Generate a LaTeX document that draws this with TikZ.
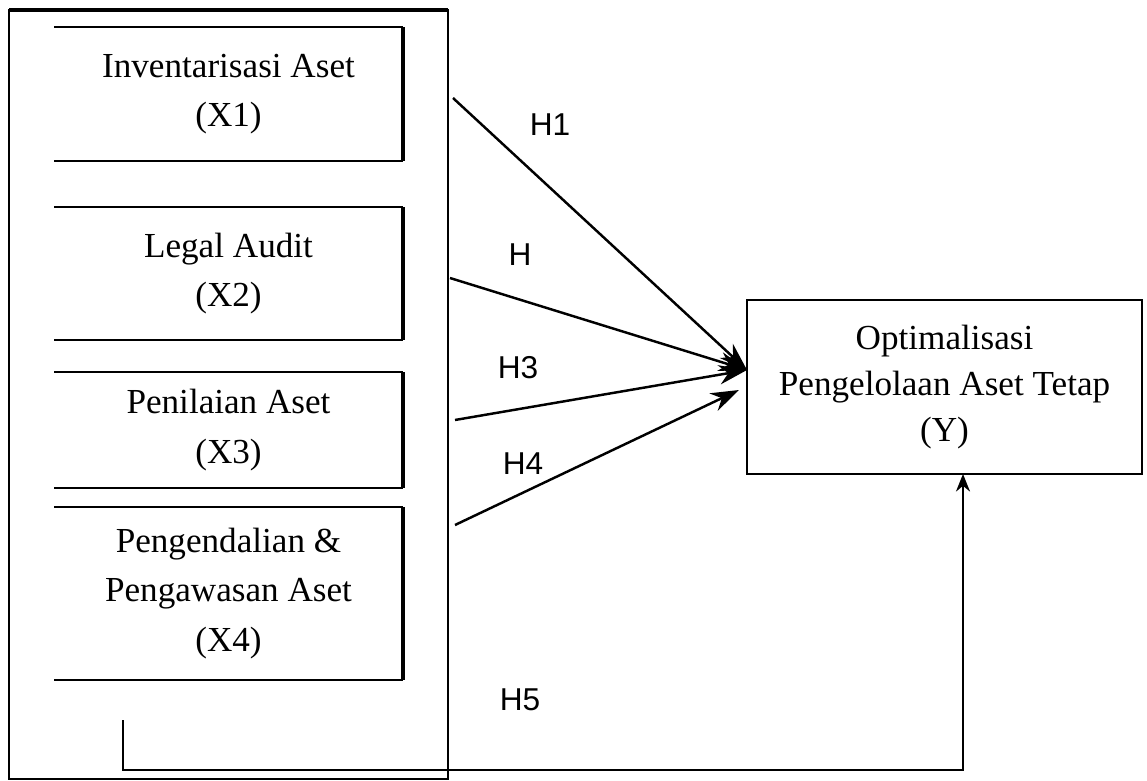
\documentclass[tikz,border=0pt]{standalone}
\usepackage{fontspec}
\setmainfont{Liberation Serif}
\newfontfamily\hlabelfont{Liberation Sans}
\usetikzlibrary{arrows.meta}
\tikzstyle{varbox}=[inner sep=0, outer sep=0, minimum width=6.98cm, align=center,
                    font=\fontsize{20}{28}\selectfont]
\tikzstyle{depbox}=[draw, line width=1.1pt, inner sep=0, outer sep=0, minimum width=7.9cm,
                    minimum height=3.48cm, align=center, font=\fontsize{20}{26}\selectfont]
\tikzstyle{hyp}=[inner sep=0, font=\hlabelfont\fontsize{18}{20}\selectfont]
\tikzstyle{hyparrow}=[line width=1.4pt, -{Stealth[length=16pt, width=11pt]}]
\begin{document}
\begin{tikzpicture}[x=0.02cm, y=-0.02cm]
    \useasboundingbox (0, 0) rectangle (1147, 781);
    % Group of independent variables
    \node[draw, line width=1.1pt, inner sep=0, outer sep=0, minimum width=8.78cm, minimum height=15.38cm] (grp) at (228.5, 394.5) {};
    \draw[line width=2.4pt] (grp.north west) -- (grp.north east);
    \node[varbox, minimum height=2.68cm] (x1) at (228.5, 94) {Inventarisasi Aset\\(X1)};
    \node[varbox, minimum height=2.66cm] (x2) at (228.5, 273.5) {Legal Audit\\(X2)};
    \node[varbox, minimum height=2.32cm] (x3) at (228.5, 430) {Penilaian Aset\\(X3)};
    \node[varbox, minimum height=3.46cm] (x4) at (228.5, 593.5) {Pengendalian \&\\Pengawasan Aset\\(X4)};
    \foreach \v in {x1, x2, x3, x4} {
        \draw[line width=1.2pt] (\v.north west) -- (\v.north east);
        \draw[line width=1.2pt] (\v.south west) -- (\v.south east);
        \draw[line width=1.8pt] (\v.north east) -- (\v.south east);
    }
    % Dependent variable
    \node[depbox] (y) at (944.5, 387) {Optimalisasi\\Pengelolaan Aset Tetap\\(Y)};
    \coordinate (s1) at (453, 98);
    \coordinate (s2) at (450, 278);
    \coordinate (s3) at (455, 420);
    \coordinate (s4) at (455, 525);
    \coordinate (t1) at (747, 370);
    \coordinate (t4) at (739, 390);
    \draw[hyparrow] (s1) -- (t1);
    \draw[hyparrow] (s2) -- (t1);
    \draw[hyparrow] (s3) -- (t1);
    \draw[hyparrow] (s4) -- (t4);
    \node[hyp] (h1) at (550, 125) {H1};
    \node[hyp] (h2) at (520, 255) {H};
    \node[hyp] (h3) at (518, 368) {H3};
    \node[hyp] (h4) at (523, 464) {H4};
    \node[hyp] (h5) at (520, 700) {H5};
    % Simultaneous effect
    \coordinate (fbA) at (123, 720);
    \coordinate (fbB) at (963, 770);
    \draw[line width=1.1pt, -{Stealth[length=10pt, width=8pt]}] (fbA) |- (fbB) -- (fbB |- y.south);
\end{tikzpicture}
\end{document}
